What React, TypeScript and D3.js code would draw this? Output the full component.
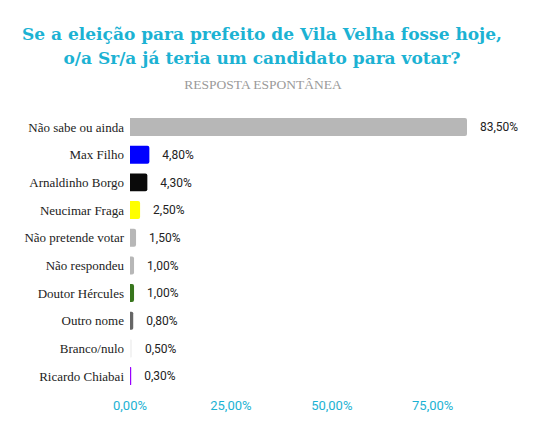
import React from "react";
import * as d3 from "d3";

const categories = [
  "Não sabe ou ainda",
  "Max Filho",
  "Arnaldinho Borgo",
  "Neucimar Fraga",
  "Não pretende votar",
  "Não respondeu",
  "Doutor Hércules",
  "Outro nome",
  "Branco/nulo",
  "Ricardo Chiabai",
];
const values = [83.5, 4.8, 4.3, 2.5, 1.5, 1.0, 1.0, 0.8, 0.5, 0.3];
const colors = [
  "#b7b7b7",
  "#0000ff",
  "#0a0a0a",
  "#ffff00",
  "#b7b7b7",
  "#b7b7b7",
  "#38761d",
  "#666666",
  "#f3f3f3",
  "#9900ff",
];
const ticks = [0, 25, 50, 75];
const titleLines = [
  "Se a eleição para prefeito de Vila Velha fosse hoje,",
  "o/a Sr/a já teria um candidato para votar?",
];
const subtitle = "RESPOSTA ESPONTÂNEA";

const W = 556;
const H = 435;
const fmt = (v: number) => v.toFixed(2).replace(".", ",") + "%";
const TITLE_FONT = "'DejaVu Serif', 'Liberation Serif', serif";
const SERIF = "'Liberation Serif', 'Times New Roman', serif";

function barPath(x0: number, x1: number, y: number, h: number, r: number) {
  const w = x1 - x0;
  const rr = Math.min(r, w / 2, h / 2);
  return `M${x0},${y}H${x1 - rr}Q${x1},${y} ${x1},${y + rr}V${y + h - rr}Q${x1},${y + h} ${x1 - rr},${y + h}H${x0}Z`;
}

export default function App() {
  const x = d3.scaleLinear().domain([0, 83.5]).range([130, 467]);
  const y = d3
    .scaleBand<string>()
    .domain(categories)
    .range([113.2, 389.9])
    .paddingInner(0.35)
    .paddingOuter(0.175);
  const teal = "#1cb2d3";
  return (
    <svg
      width={W}
      height={H}
      style={{ position: "absolute", left: 0, top: 0, background: "#fff" }}
    >
      {titleLines.map((t, i) => (
        <text
          key={i}
          x={262}
          y={40 + i * 24}
          textAnchor="middle"
          style={{ fontFamily: TITLE_FONT, fontWeight: "bold", fontSize: 17 }}
          fill={teal}
        >
          {t}
        </text>
      ))}
      <text
        x={263}
        y={89}
        textAnchor="middle"
        style={{ fontFamily: SERIF, fontSize: 13.5 }}
        fill="#9a9a9a"
      >
        {subtitle}
      </text>
      {categories.map((c, i) => {
        const by = y(c)!;
        const bh = y.bandwidth();
        const cy = by + bh / 2;
        return (
          <g key={c}>
            <text
              x={124}
              y={cy}
              dy="0.35em"
              textAnchor="end"
              style={{ fontFamily: SERIF, fontSize: 13 }}
              fill="#222"
            >
              {c}
            </text>
            <path d={barPath(x(0), x(values[i]), by, bh, 2)} fill={colors[i]} />
            <text
              x={x(values[i]) + 13}
              y={cy}
              dy="0.35em"
              style={{ fontFamily: "Roboto, sans-serif", fontSize: 12 }}
              fill="#222"
            >
              {fmt(values[i])}
            </text>
          </g>
        );
      })}
      {ticks.map((t) => (
        <text
          key={t}
          x={x(t)}
          y={410}
          textAnchor="middle"
          style={{ fontFamily: "Roboto, sans-serif", fontSize: 13 }}
          fill={teal}
        >
          {fmt(t)}
        </text>
      ))}
    </svg>
  );
}
